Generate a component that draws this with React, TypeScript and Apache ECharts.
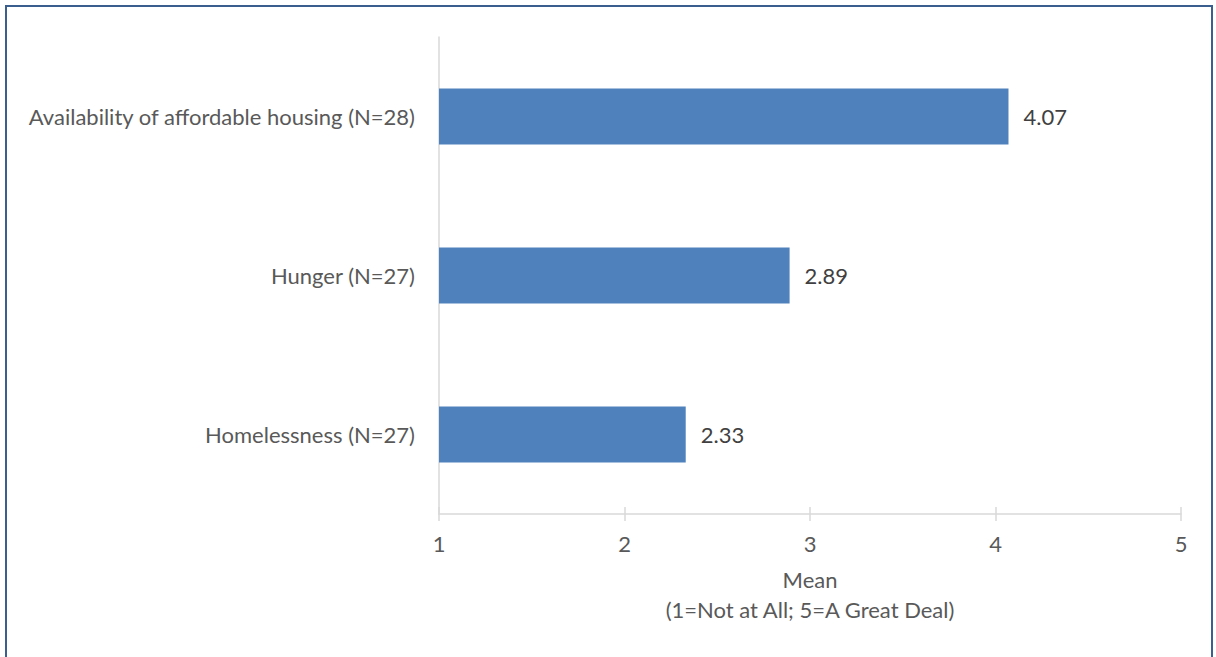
import React, { useEffect, useRef } from "react";
import * as echarts from "echarts";

const categories = [
  "Availability of affordable housing (N=28)",
  "Hunger (N=27)",
  "Homelessness (N=27)",
];
const means = [4.07, 2.89, 2.33];
const axisNameLines = ["Mean", "(1=Not at All; 5=A Great Deal)"];

const FONT = "Lato, 'Noto Sans', sans-serif";
const FS = 22;

export default function App() {
  const ref = useRef<HTMLDivElement>(null);
  useEffect(() => {
    document.body.style.margin = "0";
    if (!ref.current) return;
    const chart = echarts.init(ref.current, undefined, { renderer: "svg" });
    chart.setOption({
      animation: false,
      backgroundColor: "#ffffff",
      textStyle: { fontFamily: FONT },
      grid: { left: 439, right: 35, top: 37, bottom: 143, containLabel: false },
      xAxis: [
        {
          type: "value",
          min: 1,
          max: 5,
          interval: 1,
          position: "bottom",
          axisLine: { show: true, lineStyle: { color: "#d9d9d9", width: 1.5 } },
          axisTick: { show: true, length: 7, lineStyle: { color: "#d9d9d9", width: 1.5 } },
          splitLine: { show: false },
          axisLabel: { color: "#595959", fontSize: FS, margin: 18, fontFamily: FONT },
          name: axisNameLines.join("\n"),
          nameLocation: "middle",
          nameGap: 50,
          nameTextStyle: {
            color: "#595959",
            fontSize: FS,
            lineHeight: 30,
            fontFamily: FONT,
            verticalAlign: "top",
          },
        },
        {
          type: "value",
          min: 1,
          max: 5,
          interval: 1,
          position: "bottom",
          offset: 0,
          axisLine: { show: false },
          axisTick: { show: true, inside: true, length: 7, lineStyle: { color: "#d9d9d9", width: 1.5 } },
          splitLine: { show: false },
          axisLabel: { show: false },
        },
      ],
      yAxis: {
        type: "category",
        data: categories,
        inverse: true,
        axisLine: { show: true, lineStyle: { color: "#d9d9d9", width: 1.5 } },
        axisTick: { show: false },
        axisLabel: { color: "#595959", fontSize: FS, margin: 24, fontFamily: FONT },
      },
      series: [
        {
          type: "bar",
          xAxisIndex: 0,
          data: means,
          barWidth: 56,
          itemStyle: { color: "#4f81bd" },
          label: {
            show: true,
            position: "right",
            distance: 15,
            color: "#404040",
            fontSize: FS,
            fontFamily: FONT,
            formatter: (p: any) => Number(p.value).toFixed(2),
          },
        },
      ],
    });
    return () => chart.dispose();
  }, []);
  return (
    <div style={{ position: "relative", width: 1216, height: 657, overflow: "hidden", background: "#fff" }}>
      <div ref={ref} style={{ position: "absolute", left: 0, top: 0, width: 1216, height: 657 }} />
      <div
        style={{
          position: "absolute",
          left: 5,
          top: 5,
          width: 1208,
          height: 700,
          border: "2px solid #3a5f8f",
          boxSizing: "border-box",
          pointerEvents: "none",
        }}
      />
    </div>
  );
}
